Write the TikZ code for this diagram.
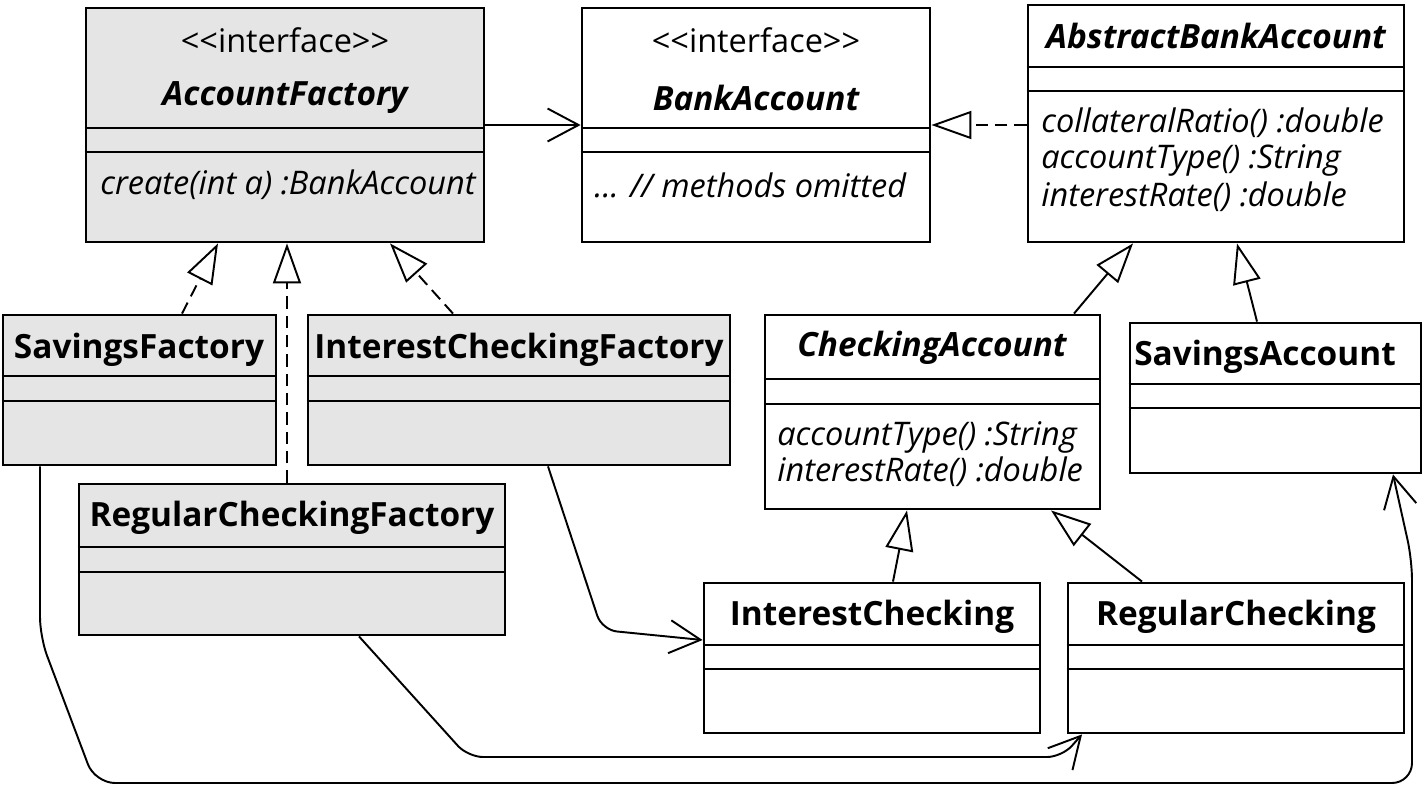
\documentclass[tikz,border=0pt]{standalone}
\usepackage{fontspec}
\setmainfont{Open Sans}
\usetikzlibrary{fit}
\usetikzlibrary{arrows.meta}
\tikzset{
    classbox/.style = {rectangle, draw=black, line width=1.6pt, fill=white, inner sep=0pt},
    classboxg/.style = {rectangle, draw=black, line width=1.6pt, fill=black!10, inner sep=0pt},
    sepline/.style = {line width=1.6pt, black},
    ctitle/.style = {font=\fontsize{19}{22}\selectfont\bfseries},
    ctitlei/.style = {font=\fontsize{19}{22}\selectfont\bfseries\itshape},
    cstereo/.style = {font=\fontsize{18.5}{22}\selectfont},
    cmethod/.style = {anchor=west, inner sep=0pt, font=\fontsize{18.5}{22}\selectfont\itshape},
    edgeassoc/.style = {-{Straight Barb[length=0.62cm,width=0.66cm]}, line width=1.1pt},
    edgereal/.style = {-{Triangle[open,length=0.8cm,width=0.56cm]}, line width=1.1pt, dash pattern=on 7pt off 4pt}, % realizes
    edgegen/.style = {-{Triangle[open,length=0.8cm,width=0.56cm]}, line width=1.1pt}, % extends
}

\begin{document}
\begin{tikzpicture}[x=0.02cm, y=-0.02cm]
\path[use as bounding box] (0,0) rectangle (1425,787);
% top row
\node[classboxg, fit={(86,8) (484,242)}] (af) {};
\node[classbox, fit={(582,8) (930,242)}] (ba) {};
\node[classbox, fit={(1028,5) (1404,242)}] (aba) {};
% factories
\node[classboxg, fit={(3,315) (276,465)}] (sf) {};
\node[classboxg, fit={(308,315) (730,465)}] (icf) {};
\node[classboxg, fit={(79,484) (505,635)}] (rcf) {};
% accounts
\node[classbox, fit={(765,315) (1100,509)}] (ca) {};
\node[classbox, fit={(1130,323) (1421,473)}] (sa) {};
\node[classbox, fit={(704,583) (1040,733)}] (ic) {};
\node[classbox, fit={(1068,583) (1404,733)}] (rc) {};
%
\draw[sepline] (af.west |- 0,128) -- (af.east |- 0,128);
\draw[sepline] (af.west |- 0,152) -- (af.east |- 0,152);
\draw[sepline] (ba.west |- 0,128) -- (ba.east |- 0,128);
\draw[sepline] (ba.west |- 0,152) -- (ba.east |- 0,152);
\draw[sepline] (aba.west |- 0,67) -- (aba.east |- 0,67);
\draw[sepline] (aba.west |- 0,91) -- (aba.east |- 0,91);
\draw[sepline] (sf.west |- 0,376) -- (sf.east |- 0,376);
\draw[sepline] (sf.west |- 0,401) -- (sf.east |- 0,401);
\draw[sepline] (icf.west |- 0,376) -- (icf.east |- 0,376);
\draw[sepline] (icf.west |- 0,401) -- (icf.east |- 0,401);
\draw[sepline] (rcf.west |- 0,547) -- (rcf.east |- 0,547);
\draw[sepline] (rcf.west |- 0,572) -- (rcf.east |- 0,572);
\draw[sepline] (ca.west |- 0,379) -- (ca.east |- 0,379);
\draw[sepline] (ca.west |- 0,404) -- (ca.east |- 0,404);
\draw[sepline] (sa.west |- 0,384) -- (sa.east |- 0,384);
\draw[sepline] (sa.west |- 0,408) -- (sa.east |- 0,408);
\draw[sepline] (ic.west |- 0,645) -- (ic.east |- 0,645);
\draw[sepline] (ic.west |- 0,669) -- (ic.east |- 0,669);
\draw[sepline] (rc.west |- 0,645) -- (rc.east |- 0,645);
\draw[sepline] (rc.west |- 0,669) -- (rc.east |- 0,669);
%
\node[cstereo] at (285,40) (afst) {{<}{<}interface{>}{>}};
\node[ctitlei] at (285,98) (aft) {AccountFactory};
\node[cmethod] at (100,185) (afm) {create(int a) :BankAccount};
\node[cstereo] at (756,40) (bast) {{<}{<}interface{>}{>}};
\node[ctitlei] at (756,98) (bat) {BankAccount};
\node[cmethod] at (594,185) (bam) {.{}.{}. // methods omitted};
\node[ctitlei] at (1216,36) (abat) {AbstractBankAccount};
\node[cmethod] at (1041,123) (abam1) {collateralRatio() :double};
\node[cmethod] at (1041,160) (abam2) {accountType() :String};
\node[cmethod] at (1041,197) (abam3) {interestRate() :double};
\node[ctitle] at (139,350) (sft) {SavingsFactory};
\node[ctitle] at (519,350) (icft) {InterestCheckingFactory};
\node[ctitle] at (292,518) (rcft) {RegularCheckingFactory};
\node[ctitlei] at (932,348) (cat) {CheckingAccount};
\node[cmethod] at (777,437) (cam1) {accountType() :String};
\node[cmethod] at (777,472) (cam2) {interestRate() :double};
\node[ctitle] at (1265,357) (sat) {SavingsAccount};
\node[ctitle] at (872,617) (ict) {InterestChecking};
\node[ctitle] at (1236,617) (rct) {RegularChecking};
%
\draw[edgeassoc] (af.east |- 0,125) -- (ba.west |- 0,125);
\draw[edgereal] (aba.west |- 0,125) -- (ba.east |- 0,125);
\draw[edgereal] (sf.north -| 182,0) -- (af.south -| 218,0);
\draw[edgereal] (rcf.north -| 287,0) -- (af.south -| 287,0);
\draw[edgereal] (icf.north -| 453,0) -- (af.south -| 390,0);
\draw[edgegen] (ca.north -| 1074,0) -- (aba.south -| 1133,0);
\draw[edgegen] (sa.north -| 1257,0) -- (aba.south -| 1237,0);
\draw[edgegen] (ic.north -| 893,0) -- (ca.south -| 907,0);
\draw[edgegen] (rc.north -| 1142,0) -- (ca.south -| 1051,0);
%
\draw[edgeassoc, rounded corners=0.3cm] (icf.south -| 548,0) -- (602,630) -- (ic.west |- 0,640);
\draw[edgeassoc, rounded corners=0.3cm] (rcf.south -| 359,0) -- (468,757) -- (1062,757) -- (rc.south -| 1082,0);
\draw[edgeassoc, rounded corners=0.4cm] (sf.south -| 40,0) -- (40,637) -- (95,783) -- (1412,783) -- (1412,560) -- (sa.south -| 1393,0);
\end{tikzpicture}
\end{document}
